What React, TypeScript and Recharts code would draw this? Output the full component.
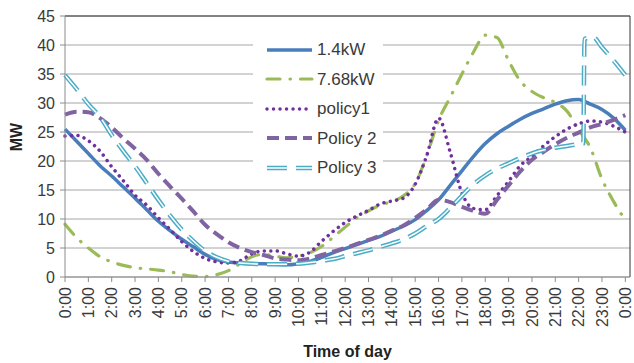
import React from 'react';
import { LineChart, Line, XAxis, YAxis, CartesianGrid, ReferenceLine } from 'recharts';

// half-hour sample times (hours)
const times = [
  0, 0.5, 1, 1.5, 2, 2.5, 3, 3.5, 4, 4.5, 5, 5.5, 6, 6.5, 7, 7.5, 8, 8.5, 9, 9.5, 10, 10.5,
  11, 11.5, 12, 12.5, 13, 13.5, 14, 14.5, 15, 15.5, 16, 16.5, 17, 17.5, 18, 18.5, 19, 19.5,
  20, 20.5, 21, 21.5, 22, 22.5, 23, 23.5, 24,
];

const kw14 = [
  25.5, 23.4, 21.3, 19.2, 17.4, 15.5, 13.6, 11.6, 9.6, 8.0, 6.5, 5.2, 3.9, 3.0, 2.6, 2.4, 2.3, 2.3,
  2.2, 2.1, 2.3, 2.7, 3.4, 4.2, 4.9, 5.6, 6.3, 7.0, 7.9, 8.8, 9.9, 11.5, 13.3, 15.8, 18.3, 20.8,
  23.0, 24.7, 26.0, 27.2, 28.2, 29.0, 29.8, 30.4, 30.6, 29.8, 28.9, 27.4, 25.3,
];

const kw768 = [
  9.1, 6.8, 5.0, 3.5, 2.6, 2.0, 1.6, 1.4, 1.2, 0.9, 0.45, 0.15, 0.1, 0.4, 1.1, 2.3, 3.5, 3.9,
  3.6, 3.3, 3.6, 4.2, 5.3, 6.9, 8.6, 10.2, 11.4, 12.4, 13.0, 14.0, 16.1, 21.0, 27.0, 31.0, 35.0,
  38.8, 41.7, 41.3, 37.3, 33.8, 32.0, 30.9, 30.1, 28.6, 25.4, 22.3, 16.9, 13.0, 9.8,
];

const policy1 = [
  24.3, 24.4, 23.5, 21.7, 19.0, 16.6, 14.1, 12.4, 10.2, 8.2, 6.1, 4.4, 3.2, 2.6, 2.4, 2.8, 4.0,
  4.5, 4.5, 4.0, 3.6, 4.3, 6.2, 7.9, 9.4, 10.5, 11.5, 12.6, 13.1, 13.6, 16.0, 21.0, 27.4, 21.5,
  14.5, 11.8, 11.6, 14.0, 16.5, 19.2, 20.8, 22.6, 24.2, 25.5, 26.4, 26.9, 26.7, 26.0, 25.0,
];

const policy2 = [
  28.0, 28.5, 28.4, 27.4, 25.8, 23.9, 22.1, 20.2, 17.8, 15.6, 13.5, 11.3, 9.0, 7.4, 6.0, 5.0, 4.3,
  3.8, 3.2, 3.0, 2.9, 3.2, 3.8, 4.4, 5.0, 5.7, 6.4, 7.1, 8.0, 8.9, 10.2, 11.7, 13.3, 12.9, 12.1,
  11.4, 10.9, 13.3, 15.8, 18.2, 20.2, 21.6, 22.9, 24.0, 24.9, 25.8, 26.4, 27.1, 27.9,
];

// policy 3 has a step at about 22:15, so it keeps its own time list
const policy3Times = [
  0, 0.5, 1, 1.5, 2, 2.5, 3, 3.5, 4, 4.5, 5, 5.5, 6, 6.5, 7, 7.5, 8, 8.5, 9, 9.5, 10, 10.5,
  11, 11.5, 12, 12.5, 13, 13.5, 14, 14.5, 15, 15.5, 16, 16.5, 17, 17.5, 18, 18.5, 19, 19.5,
  20, 20.5, 21, 21.5, 22, 22.2, 22.25, 22.6, 23, 23.5, 24,
];
const policy3 = [
  34.8, 32.4, 29.8, 27.6, 24.5, 21.7, 19.1, 16.2, 13.3, 10.6, 8.2, 6.2, 4.5, 3.4, 2.7, 2.4, 2.3,
  2.2, 2.2, 2.2, 2.3, 2.5, 2.8, 3.1, 3.6, 4.1, 4.6, 5.2, 5.8, 6.5, 7.5, 8.8, 10.0, 11.9, 14.0,
  16.0, 17.5, 18.7, 19.6, 20.5, 21.3, 21.9, 22.3, 22.6, 22.9, 23.0, 41.0, 41.4, 39.6, 37.3, 34.8,
];

const hourTicks = [0, 1, 2, 3, 4, 5, 6, 7, 8, 9, 10, 11, 12, 13, 14, 15, 16, 17, 18, 19, 20, 21, 22, 23, 24];
const hourLabels = [
  '0:00', '1:00', '2:00', '3:00', '4:00', '5:00', '6:00', '7:00', '8:00', '9:00', '10:00', '11:00',
  '12:00', '13:00', '14:00', '15:00', '16:00', '17:00', '18:00', '19:00', '20:00', '21:00', '22:00',
  '23:00', '0:00',
];
const mwTicks = [0, 5, 10, 15, 20, 25, 30, 35, 40, 45];

const rows = times.map((t, i) => ({
  t,
  kw14: kw14[i],
  kw768: kw768[i],
  policy1: policy1[i],
  policy2: policy2[i],
}));
const policy3Rows = policy3Times.map((t, i) => ({ t, policy3: policy3[i] }));

const FONT = '"Liberation Sans", Arial, sans-serif';
const TEXT = '#3a3a3a';
const AXIS = '#8c8c8c';

const styles = {
  kw14: { stroke: '#4a7ebb', strokeWidth: 3.5 },
  kw768: { stroke: '#9bbb59', strokeWidth: 3.2, strokeDasharray: '13 10 0.5 10', strokeLinecap: 'round' as const },
  policy1: { stroke: '#7030a0', strokeWidth: 3.5, strokeDasharray: '0.01 6.5', strokeLinecap: 'round' as const },
  policy2: { stroke: '#8064a2', strokeWidth: 4, strokeDasharray: '12 6' },
  policy3: { stroke: '#4bacc6', strokeWidth: 4.5, strokeDasharray: '20 9' },
};

const legendItems = [
  { key: 'kw14', name: '1.4kW' },
  { key: 'kw768', name: '7.68kW' },
  { key: 'policy1', name: 'policy1' },
  { key: 'policy2', name: 'Policy 2' },
  { key: 'policy3', name: 'Policy 3' },
];

const HourTick = (props: any) => {
  const { x, y, payload } = props;
  const label = hourLabels[hourTicks.indexOf(payload.value)];
  return (
    <text
      transform={`translate(${x},${y}) rotate(-90)`}
      textAnchor="end"
      dy="0.35em"
      fontSize={16}
      fill={TEXT}
      fontFamily={FONT}
    >
      {label}
    </text>
  );
};

const Legend = () => (
  <div
    style={{
      position: 'absolute',
      left: 253,
      top: 32,
      width: 130,
      height: 145,
      background: '#fff',
      fontFamily: FONT,
      fontSize: 17,
      color: TEXT,
    }}
  >
    {legendItems.map((item, i) => {
      const s = (styles as any)[item.key];
      return (
        <div key={item.key} style={{ position: 'absolute', left: 0, top: 3 + i * 29.5, height: 29, display: 'flex', alignItems: 'center' }}>
          <svg width={64} height={12} style={{ display: 'block' }}>
            <line x1={14} x2={59} y1={6} y2={6} {...s} />
            {item.key === 'policy3' && (
              <line x1={14} x2={59} y1={6} y2={6} stroke="#fff" strokeWidth={1.5} strokeDasharray={s.strokeDasharray} />
            )}
          </svg>
          <span style={{ lineHeight: '29px' }}>{item.name}</span>
        </div>
      );
    })}
  </div>
);

export default function App() {
  return (
    <div style={{ position: 'absolute', left: 0, top: 0, width: 634, height: 363, background: '#fff' }}>
      <LineChart
        width={634}
        height={363}
        data={rows}
        margin={{ top: 16, right: 4, bottom: 0, left: 0 }}
        style={{ fontFamily: FONT }}
      >
        <CartesianGrid horizontal vertical={false} stroke="#a6a6a6" />
        <XAxis
          type="number"
          dataKey="t"
          domain={[0, 24.2]}
          ticks={hourTicks}
          interval={0}
          height={86}
          tickSize={5}
          tickMargin={5}
          stroke={AXIS}
          tick={<HourTick />}
          label={{ value: 'Time of day', position: 'insideBottom', offset: 6, fontSize: 16, fontWeight: 'bold', fill: '#222', fontFamily: FONT }}
        />
        <YAxis
          type="number"
          domain={[0, 45]}
          ticks={mwTicks}
          interval={0}
          width={65}
          tickSize={5}
          tickMargin={5}
          stroke={AXIS}
          tick={{ fontSize: 16, fill: TEXT, fontFamily: FONT }}
          label={() => (
            <text
              x={16}
              y={137}
              transform="rotate(-90 16 137)"
              textAnchor="middle"
              dominantBaseline="central"
              fontSize={16}
              fontWeight="bold"
              fill="#222"
              fontFamily={FONT}
            >
              MW
            </text>
          )}
        />
        <ReferenceLine y={45} stroke="#333" />
        <ReferenceLine x={24.2} stroke="#333" />
        <Line type="monotone" dataKey="kw14" dot={false} isAnimationActive={false} {...styles.kw14} />
        <Line type="monotone" dataKey="kw768" dot={false} isAnimationActive={false} {...styles.kw768} />
        <Line type="monotone" dataKey="policy1" dot={false} isAnimationActive={false} {...styles.policy1} />
        <Line type="monotone" dataKey="policy2" dot={false} isAnimationActive={false} {...styles.policy2} />
        <Line type="monotone" data={policy3Rows} dataKey="policy3" dot={false} isAnimationActive={false} {...styles.policy3} />
        <Line
          type="monotone"
          data={policy3Rows}
          dataKey="policy3"
          dot={false}
          isAnimationActive={false}
          stroke="#fff"
          strokeWidth={1.5}
          strokeDasharray={styles.policy3.strokeDasharray}
        />
      </LineChart>
      <Legend />
    </div>
  );
}
